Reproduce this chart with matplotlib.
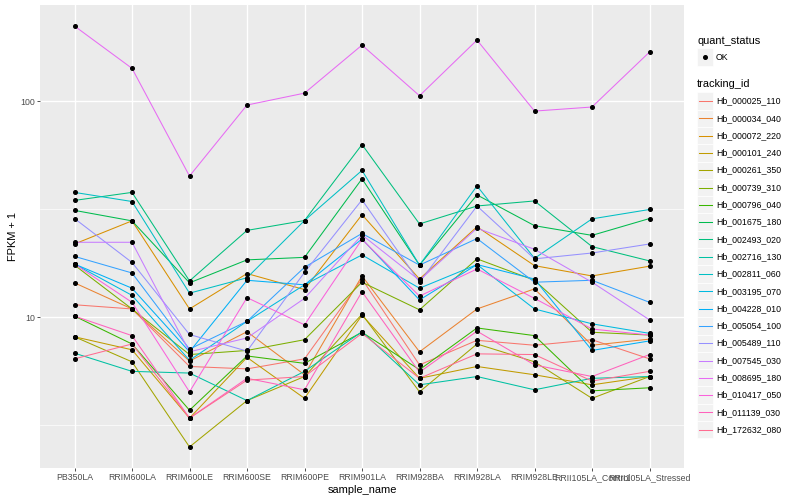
import numpy as np
import matplotlib.pyplot as plt
from matplotlib.patches import Rectangle
from matplotlib.lines import Line2D
from matplotlib.ticker import FixedLocator, NullFormatter

plt.rcParams['font.family'] = ['Liberation Sans', 'DejaVu Sans']

samples = ['PB350LA', 'RRIM600LA', 'RRIM600LE', 'RRIM600SE', 'RRIM600PE', 'RRIM901LA',
           'RRIM928BA', 'RRIM928LA', 'RRIM928LE', 'RRII105LA_Control', 'RRII105LA_Stressed']

tracking_ids = ['Hb_000025_110', 'Hb_000034_040', 'Hb_000072_220', 'Hb_000101_240',
                'Hb_000261_350', 'Hb_000739_310', 'Hb_000796_040', 'Hb_001675_180',
                'Hb_002493_020', 'Hb_002716_130', 'Hb_002811_060', 'Hb_003195_070',
                'Hb_004228_010', 'Hb_005054_100', 'Hb_005489_110', 'Hb_007545_030',
                'Hb_008695_180', 'Hb_010417_050', 'Hb_011139_030', 'Hb_172632_080']

# FPKM + 1 per sample
hb_000025_110 = [11.4, 10.9, 5.9, 5.75, 6.4, 15.0, 6.0, 7.8, 7.4, 7.85, 6.4]
hb_000034_040 = [14.4, 10.9, 6.25, 8.55, 5.4, 15.5, 6.9, 10.9, 13.5, 7.4, 7.9]
hb_000072_220 = [21.8, 27.9, 10.9, 15.9, 13.4, 29.8, 15.0, 26.2, 17.3, 15.5, 17.2]
hb_000101_240 = [8.1, 7.05, 3.4, 6.5, 4.2, 10.2, 5.2, 5.9, 5.4, 4.85, 5.3]
hb_000261_350 = [8.1, 6.2, 2.5, 4.1, 5.3, 10.3, 4.5, 7.5, 6.2, 4.2, 5.3]
hb_000739_310 = [17.4, 10.9, 6.7, 7.0, 7.85, 14.5, 10.8, 18.6, 14.8, 8.5, 8.25]
hb_000796_040 = [10.1, 7.5, 3.7, 6.6, 6.1, 8.5, 5.7, 8.9, 8.2, 4.55, 4.7]
hb_001675_180 = [31.2, 27.9, 14.4, 18.4, 18.9, 43.7, 17.4, 36.8, 26.5, 23.9, 28.6]
hb_002493_020 = [34.7, 37.8, 14.7, 25.2, 28.0, 63.0, 27.0, 32.7, 34.5, 21.2, 18.2]
hb_002716_130 = [6.8, 5.6, 5.5, 4.1, 5.6, 8.55, 4.85, 5.3, 4.6, 5.2, 5.3]
hb_002811_060 = [37.8, 34.3, 12.9, 15.2, 28.0, 47.8, 17.4, 40.5, 18.7, 28.5, 31.5]
hb_003195_070 = [17.6, 12.6, 6.3, 9.55, 14.1, 19.4, 13.6, 17.5, 10.9, 9.3, 8.4]
hb_004228_010 = [17.6, 13.6, 6.9, 14.8, 14.1, 23.0, 12.0, 17.5, 15.0, 7.0, 7.75]
hb_005054_100 = [19.1, 16.0, 7.1, 9.55, 17.0, 24.4, 17.4, 23.1, 14.5, 14.8, 11.7]
hb_005489_110 = [28.6, 17.9, 8.3, 6.95, 16.1, 34.9, 14.5, 32.7, 18.6, 19.8, 21.8]
hb_007545_030 = [22.2, 22.2, 6.9, 8.0, 12.2, 24.0, 14.8, 25.8, 20.6, 14.5, 9.7]
hb_008695_180 = [223, 142, 45, 96, 109, 182, 106, 192, 90, 94, 169]
hb_010417_050 = [17.6, 11.7, 4.5, 12.3, 9.2, 22.9, 12.5, 16.7, 12.2, 8.8, 8.25]
hb_011139_030 = [10.1, 8.2, 3.4, 5.2, 4.6, 13.1, 5.55, 8.6, 6.0, 5.3, 6.7]
hb_172632_080 = [6.4, 7.5, 3.4, 5.1, 5.3, 8.4, 5.2, 6.75, 6.7, 5.05, 5.6]

series = [hb_000025_110, hb_000034_040, hb_000072_220, hb_000101_240, hb_000261_350,
          hb_000739_310, hb_000796_040, hb_001675_180, hb_002493_020, hb_002716_130,
          hb_002811_060, hb_003195_070, hb_004228_010, hb_005054_100, hb_005489_110,
          hb_007545_030, hb_008695_180, hb_010417_050, hb_011139_030, hb_172632_080]

# ggplot default hue palette for 20 groups
colors = ['#F8766D', '#EA8331', '#D89000', '#C09B00', '#A3A500', '#7CAE00', '#39B600',
          '#00BB4E', '#00BF7D', '#00C1A3', '#00BFC4', '#00BAE0', '#00B0F6', '#35A2FF',
          '#9590FF', '#C77CFF', '#E76BF3', '#FA62DB', '#FF62BC', '#FF6C91']

W, H = 800, 500
fig = plt.figure(figsize=(W / 100, H / 100), dpi=100)
ax = fig.add_axes([40 / W, 32 / H, 644 / W, 463 / H])
ax.set_facecolor('#EBEBEB')
for sp in ax.spines.values():
    sp.set_visible(False)

x = np.arange(len(samples))
for vals, col in zip(series, colors):
    ax.plot(x, vals, color=col, lw=0.75, zorder=2)
for vals in series:
    ax.plot(x, vals, ls='none', marker='o', ms=2.6, color='black', zorder=3)

ax.set_yscale('log')
allv = np.log10(np.concatenate([np.array(s, dtype=float) for s in series]))
rng = allv.max() - allv.min()
ax.set_ylim(10 ** (allv.min() - 0.05 * rng), 10 ** (allv.max() + 0.05 * rng))
ax.set_xlim(-0.6, len(samples) - 0.4)

ax.set_xticks(x)
ax.set_xticklabels(samples)
ax.yaxis.set_major_locator(FixedLocator([10, 100]))
ax.set_yticklabels(['10', '100'])
ax.yaxis.set_minor_locator(FixedLocator([10 ** 0.5, 10 ** 1.5, 10 ** 2.5]))
ax.yaxis.set_minor_formatter(NullFormatter())
ax.tick_params(which='minor', length=0)
ax.tick_params(which='major', length=2, width=0.6, color='#333333',
               labelsize=6.3, labelcolor='#4D4D4D', pad=1.5)
ax.grid(which='major', color='white', lw=1.0)
ax.grid(which='minor', axis='y', color='white', lw=0.5)
ax.set_axisbelow(True)

ax.set_xlabel('sample_name', fontsize=7.9, labelpad=2)
ax.set_ylabel('FPKM + 1', fontsize=7.9, labelpad=1.5)

# legends, drawn by hand in ggplot style
def fx(p):
    return p / W

def fy(p):
    return 1 - p / H

fig.text(fx(697), fy(40.7), 'quant_status', fontsize=7.9, va='center', ha='left')
fig.add_artist(Rectangle((fx(697), fy(65.8)), 16 / W, 17.3 / H, facecolor='#F2F2F2',
                         edgecolor='white', lw=0.5, transform=fig.transFigure))
fig.add_artist(Line2D([fx(705)], [fy(57.2)], marker='o', ms=2.6, color='black',
                      transform=fig.transFigure))
fig.text(fx(716), fy(57.2), 'OK', fontsize=6.3, va='center', ha='left')

fig.text(fx(697), fy(84.3), 'tracking_id', fontsize=7.9, va='center', ha='left')
for i, (tid, col) in enumerate(zip(tracking_ids, colors)):
    yc = 101 + i * 17.3
    fig.add_artist(Rectangle((fx(697), fy(yc + 8.65)), 16 / W, 17.3 / H, facecolor='#F2F2F2',
                             edgecolor='white', lw=0.5, transform=fig.transFigure))
    fig.add_artist(Line2D([fx(698.5), fx(711.5)], [fy(yc), fy(yc)], color=col, lw=0.75,
                          transform=fig.transFigure))
    fig.text(fx(716), fy(yc), tid, fontsize=6.3, va='center', ha='left')

fig.savefig('out.png', dpi=100)
